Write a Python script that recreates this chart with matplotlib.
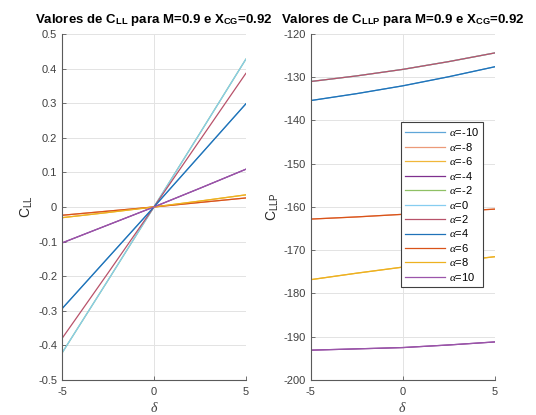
import matplotlib
matplotlib.use("Agg")
import matplotlib.pyplot as plt

plt.rcParams['font.family'] = ['Liberation Sans', 'DejaVu Sans']
plt.rcParams['mathtext.fontset'] = 'custom'
plt.rcParams['mathtext.rm'] = 'Liberation Sans'
plt.rcParams['mathtext.bf'] = 'Liberation Sans:bold'
plt.rcParams['mathtext.it'] = 'Liberation Serif:italic'
plt.rcParams['axes.unicode_minus'] = False

delta = [-5, -2.5, 0, 2.5, 5]
alphas = [-10, -8, -6, -4, -2, 0, 2, 4, 6, 8, 10]

# C_LL values per alpha (at delta points)
cll = {
    -10: [-0.294, -0.147, 0.0, 0.149, 0.298],
    -8:  [-0.024, -0.012, 0.0, 0.013, 0.026],
    -6:  [-0.031, -0.016, 0.0, 0.017, 0.035],
    -4:  [-0.104, -0.052, 0.0, 0.054, 0.109],
    -2:  [-0.422, -0.212, 0.0, 0.213, 0.427],
    0:   [-0.422, -0.212, 0.0, 0.213, 0.427],
    2:   [-0.380, -0.191, 0.0, 0.193, 0.386],
    4:   [-0.294, -0.147, 0.0, 0.149, 0.298],
    6:   [-0.024, -0.012, 0.0, 0.013, 0.026],
    8:   [-0.031, -0.016, 0.0, 0.017, 0.035],
    10:  [-0.104, -0.052, 0.0, 0.054, 0.109],
}

# C_LLP values per alpha (at delta points)
cllp = {
    -10: [-135.4, -133.8, -132.0, -129.9, -127.6],
    -8:  [-162.8, -162.3, -161.7, -161.1, -160.5],
    -6:  [-176.8, -175.3, -173.9, -172.7, -171.5],
    -4:  [-193.1, -192.8, -192.5, -191.9, -191.2],
    -2:  [-131.0, -129.7, -128.2, -126.4, -124.4],
    0:   [-131.0, -129.7, -128.2, -126.4, -124.4],
    2:   [-131.0, -129.7, -128.2, -126.4, -124.4],
    4:   [-135.4, -133.8, -132.0, -129.9, -127.6],
    6:   [-162.8, -162.3, -161.7, -161.1, -160.5],
    8:   [-176.8, -175.3, -173.9, -172.7, -171.5],
    10:  [-193.1, -192.8, -192.5, -191.9, -191.2],
}

colors = ['#5fa6d8', '#ec9a78', '#f0b73a', '#7e2f8e', '#8fc064',
          '#86cdf0', '#b8526a', '#1f72b8', '#d95319', '#edb120', '#9b55aa']

fig = plt.figure(figsize=(5.36, 4.15), dpi=100)
ax1 = fig.add_axes([0.1157, 0.0843, 0.343, 0.834])
ax2 = fig.add_axes([0.580, 0.0843, 0.343, 0.834])

for a, c in zip(alphas, colors):
    ax1.plot(delta, cll[a], color=c, lw=0.9, label=r'$\alpha$=%d' % a)
    ax2.plot(delta, cllp[a], color=c, lw=0.9, label=r'$\alpha$=%d' % a)

def style(ax, ylim, yticks):
    ax.set_xlim(-5, 5)
    ax.set_ylim(*ylim)
    ax.set_xticks([-5, 0, 5])
    ax.set_yticks(yticks)
    ax.grid(True, color='#e3e3e3', lw=0.7)
    ax.set_axisbelow(True)
    for s in ['top', 'right']:
        ax.spines[s].set_visible(False)
    for s in ['left', 'bottom']:
        ax.spines[s].set_color('#5a5a5a')
        ax.spines[s].set_linewidth(0.8)
    ax.tick_params(direction='in', length=3, width=0.6, colors='#5a5a5a',
                   labelsize=8, labelcolor='#404040')
    ax.tick_params(axis='x', pad=5)
    ax.set_xlabel(r'$\delta$', fontsize=10, color='#404040', labelpad=3)

style(ax1, (-0.5, 0.5), [-0.5, -0.4, -0.3, -0.2, -0.1, 0, 0.1, 0.2, 0.3, 0.4, 0.5])
ax1.set_yticklabels(['-0.5', '-0.4', '-0.3', '-0.2', '-0.1', '0', '0.1', '0.2', '0.3', '0.4', '0.5'])
style(ax2, (-200, -120), list(range(-200, -119, 10)))

ax1.set_ylabel(r'C$_{\mathrm{LL}}$', fontsize=10, color='#262626', labelpad=2)
ax2.set_ylabel(r'C$_{\mathrm{LLP}}$', fontsize=10, color='#262626', labelpad=2)

ax1.set_title(r'Valores de C$_{\mathbf{LL}}$ para M=0.9 e X$_{\mathbf{CG}}$=0.92',
              fontsize=9.5, fontweight='bold', pad=8)
ax2.set_title(r'Valores de C$_{\mathbf{LLP}}$ para M=0.9 e X$_{\mathbf{CG}}$=0.92',
              fontsize=9.5, fontweight='bold', pad=8)

leg = ax2.legend(loc='upper right', bbox_to_anchor=(0.967, 0.762), fontsize=8,
                 handlelength=3.6, labelspacing=0.22, borderpad=0.4,
                 handletextpad=0.3, fancybox=False, framealpha=1)
leg.get_frame().set_edgecolor('#404040')
leg.get_frame().set_linewidth(0.8)

fig.savefig('out.png', dpi=100)
